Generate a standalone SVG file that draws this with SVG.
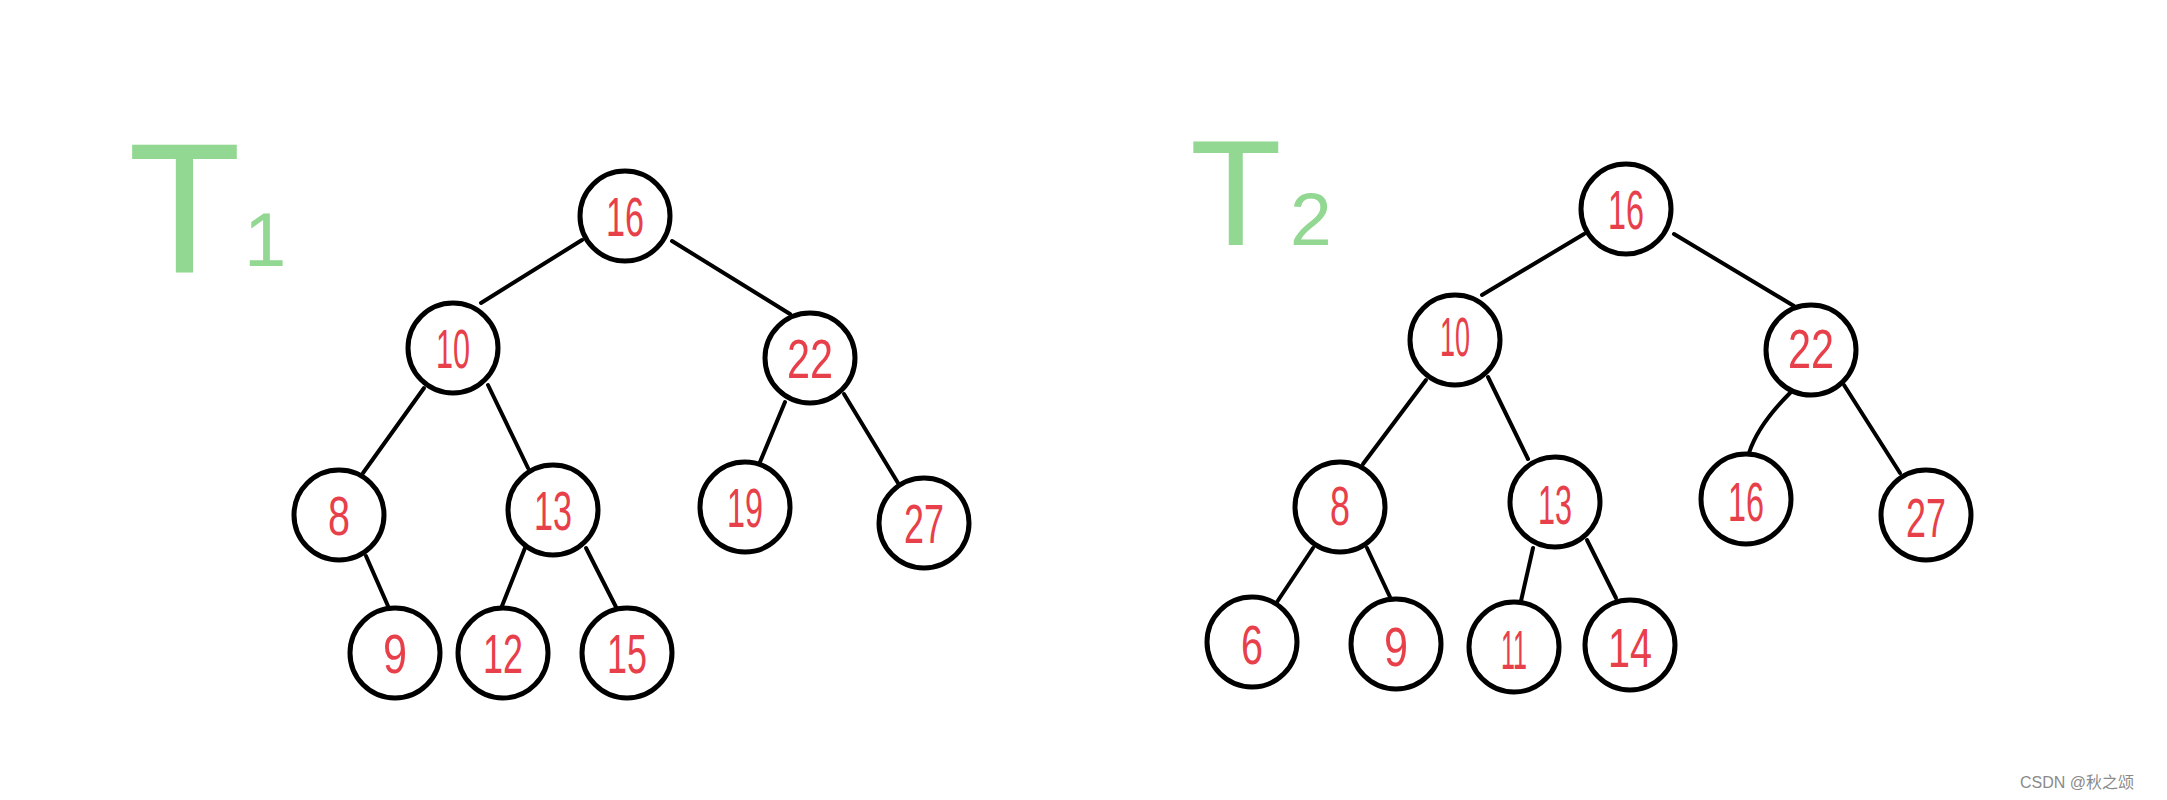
<svg xmlns="http://www.w3.org/2000/svg" width="2167" height="800" viewBox="0 0 2167 800">
<style>
.n circle{fill:#fff;stroke:#000;stroke-width:5}
.n text{font-family:"Liberation Sans Narrow","Liberation Sans",sans-serif;font-size:56px;fill:#e8404a;text-anchor:middle}
.e line,.e path{stroke:#000;stroke-width:4;fill:none;stroke-linecap:round}
.lbl{font-family:"Liberation Sans",sans-serif;fill:#86d486;fill-opacity:0.9}
.wm{font-family:"Liberation Sans","Noto Sans CJK SC",sans-serif;font-size:16px;fill:#8a8a8a}
</style>
<rect width="2167" height="800" fill="#fff"/>
<g id="label-T1"><text class="lbl" x="128" y="273" font-size="185">T</text><text class="lbl" x="244" y="266" font-size="76">1</text></g>
<g id="label-T2"><text class="lbl" x="1190" y="245" font-size="150">T</text><text class="lbl" x="1290" y="245" font-size="75">2</text></g>
<g id="connectors" class="e">
<line x1="582" y1="240" x2="481" y2="303"/>
<line x1="672" y1="241" x2="790" y2="314"/>
<line x1="424" y1="388" x2="363" y2="473"/>
<line x1="488" y1="385" x2="528" y2="468"/>
<line x1="785" y1="402" x2="760" y2="462"/>
<line x1="844" y1="394" x2="898" y2="483"/>
<line x1="366" y1="556" x2="388" y2="606"/>
<line x1="525" y1="548" x2="502" y2="606"/>
<line x1="586" y1="548" x2="616" y2="607"/>
<line x1="1584" y1="234" x2="1482" y2="295"/>
<line x1="1674" y1="234" x2="1794" y2="306"/>
<line x1="1426" y1="380" x2="1363" y2="464"/>
<line x1="1488" y1="377" x2="1528" y2="459"/>
<path d="M1790,393 Q1758,425 1749,453"/>
<line x1="1844" y1="385" x2="1900" y2="473"/>
<line x1="1313" y1="548" x2="1277" y2="602"/>
<line x1="1367" y1="548" x2="1390" y2="597"/>
<line x1="1533" y1="548" x2="1521" y2="601"/>
<line x1="1587" y1="540" x2="1616" y2="598"/>
</g>
<g id="t1-16" class="n"><circle cx="625" cy="216" r="45"/><text x="625" y="236" textLength="38" lengthAdjust="spacingAndGlyphs">16</text></g>
<g id="t1-10" class="n"><circle cx="453" cy="348" r="45"/><text x="453" y="368" textLength="34" lengthAdjust="spacingAndGlyphs">10</text></g>
<g id="t1-22" class="n"><circle cx="810" cy="358" r="45"/><text x="810" y="378" textLength="46" lengthAdjust="spacingAndGlyphs">22</text></g>
<g id="t1-8" class="n"><circle cx="339" cy="515" r="45"/><text x="339" y="535" textLength="22" lengthAdjust="spacingAndGlyphs">8</text></g>
<g id="t1-13" class="n"><circle cx="553" cy="510" r="45"/><text x="553" y="530" textLength="38" lengthAdjust="spacingAndGlyphs">13</text></g>
<g id="t1-19" class="n"><circle cx="745" cy="507" r="45"/><text x="745" y="527" textLength="36" lengthAdjust="spacingAndGlyphs">19</text></g>
<g id="t1-27" class="n"><circle cx="924" cy="523" r="45"/><text x="924" y="543" textLength="40" lengthAdjust="spacingAndGlyphs">27</text></g>
<g id="t1-9" class="n"><circle cx="395" cy="653" r="45"/><text x="395" y="673" textLength="24" lengthAdjust="spacingAndGlyphs">9</text></g>
<g id="t1-12" class="n"><circle cx="503" cy="653" r="45"/><text x="503" y="673" textLength="40" lengthAdjust="spacingAndGlyphs">12</text></g>
<g id="t1-15" class="n"><circle cx="627" cy="653" r="45"/><text x="627" y="673" textLength="40" lengthAdjust="spacingAndGlyphs">15</text></g>
<g id="t2-16" class="n"><circle cx="1626" cy="209" r="45"/><text x="1626" y="229" textLength="36" lengthAdjust="spacingAndGlyphs">16</text></g>
<g id="t2-10" class="n"><circle cx="1455" cy="340" r="45"/><text x="1455" y="356" textLength="30" lengthAdjust="spacingAndGlyphs" font-size="46">10</text></g>
<g id="t2-22" class="n"><circle cx="1811" cy="350" r="45"/><text x="1811" y="368" textLength="46" lengthAdjust="spacingAndGlyphs" font-size="50">22</text></g>
<g id="t2-8" class="n"><circle cx="1340" cy="507" r="45"/><text x="1340" y="525" textLength="20" lengthAdjust="spacingAndGlyphs" font-size="50">8</text></g>
<g id="t2-13" class="n"><circle cx="1555" cy="502" r="45"/><text x="1555" y="524" textLength="34" lengthAdjust="spacingAndGlyphs">13</text></g>
<g id="t2-16b" class="n"><circle cx="1746" cy="499" r="45"/><text x="1746" y="521" textLength="36" lengthAdjust="spacingAndGlyphs">16</text></g>
<g id="t2-27" class="n"><circle cx="1926" cy="515" r="45"/><text x="1926" y="537" textLength="40" lengthAdjust="spacingAndGlyphs">27</text></g>
<g id="t2-6" class="n"><circle cx="1252" cy="642" r="45"/><text x="1252" y="664" textLength="22" lengthAdjust="spacingAndGlyphs">6</text></g>
<g id="t2-9" class="n"><circle cx="1396" cy="644" r="45"/><text x="1396" y="666" textLength="24" lengthAdjust="spacingAndGlyphs">9</text></g>
<g id="t2-11" class="n"><circle cx="1514" cy="647" r="45"/><text x="1514" y="669" textLength="26" lengthAdjust="spacingAndGlyphs">11</text></g>
<g id="t2-14" class="n"><circle cx="1630" cy="645" r="45"/><text x="1630" y="667" textLength="44" lengthAdjust="spacingAndGlyphs">14</text></g>
<text class="wm" x="2020" y="788">CSDN @秋之颂</text>
</svg>
